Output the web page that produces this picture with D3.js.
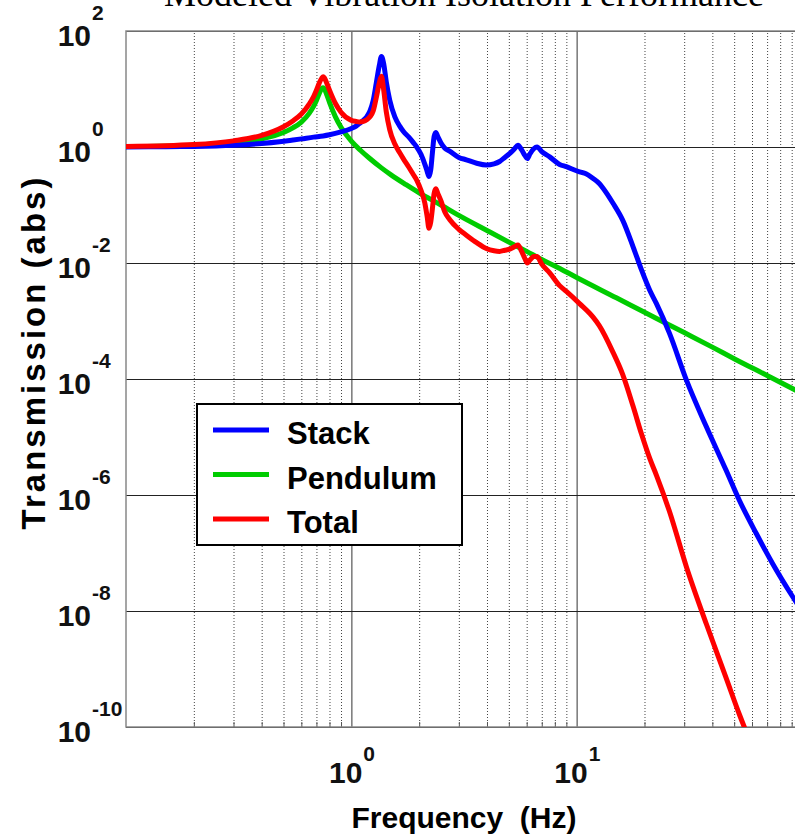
<!DOCTYPE html>
<html>
<head>
<meta charset="utf-8">
<script src="https://cdn.jsdelivr.net/npm/d3@7/dist/d3.min.js"></script>
<style>
  body { margin: 0; background: #fff; }
  svg { display: block; }
</style>
</head>
<body>
<div id="vis"></div>
<script>
// data (frequency in Hz, log10 of transmission)
const stackFreq = [0.1, 0.15, 0.2, 0.3, 0.4, 0.48, 0.55, 0.6, 0.68, 0.75, 0.8, 0.9, 1.0, 1.05, 1.09,
  1.13, 1.17, 1.21, 1.25, 1.29, 1.33, 1.36, 1.39, 1.43, 1.48, 1.56, 1.64, 1.7, 1.8, 1.88,
  1.95, 2.04, 2.12, 2.17, 2.21, 2.25, 2.29, 2.33, 2.37, 2.42, 2.5, 2.6, 2.73, 3.0, 3.24,
  3.6, 3.97, 4.3, 4.55, 4.8, 5.05, 5.3, 5.49, 5.7, 5.9, 6.04, 6.2, 6.45, 6.67, 7.0,
  7.59, 8.4, 9.0, 10.3, 11.0, 11.8, 12.6, 13.1, 14.5, 16.0, 17.8, 19.4, 21.1, 22.6, 25.8,
  30.7, 37.6, 46.0, 52.7, 62.6, 74.0, 90.8, 100];
const stackLog = [0.00, 0.005, 0.01, 0.03, 0.06, 0.09, 0.12, 0.14, 0.17, 0.19, 0.21, 0.26, 0.32, 0.36, 0.41,
  0.46, 0.52, 0.62, 0.80, 1.10, 1.40, 1.56, 1.45, 1.12, 0.81, 0.52, 0.36, 0.27, 0.17, 0.08,
  0.0, -0.13, -0.30, -0.42, -0.51, -0.40, -0.10, 0.18, 0.25, 0.18, 0.07, -0.02, -0.07, -0.18, -0.22,
  -0.28, -0.31, -0.29, -0.25, -0.18, -0.11, -0.03, 0.03, -0.05, -0.15, -0.20, -0.12, -0.03, 0.0, -0.08,
  -0.17, -0.30, -0.34, -0.43, -0.46, -0.54, -0.63, -0.71, -0.97, -1.26, -1.72, -2.12, -2.47, -2.70, -3.21,
  -4.02, -4.82, -5.57, -6.09, -6.66, -7.18, -7.75, -8.0];

const pendFreq = [0.1, 0.2, 0.3, 0.4, 0.5, 0.55, 0.6, 0.65, 0.68, 0.7, 0.72, 0.74, 0.75, 0.76, 0.78,
  0.8, 0.85, 0.9, 1.0, 1.1, 1.2, 1.36, 1.5, 1.75, 2.0, 2.5, 3.0, 4.0, 5.0, 6.0,
  7.0, 8.0, 10, 15, 20, 30, 40, 50, 70, 100];
const pendLog = [0.008, 0.032, 0.076, 0.14, 0.25, 0.33, 0.43, 0.58, 0.70, 0.80, 0.92, 1.01, 1.02, 1.0, 0.89,
  0.77, 0.52, 0.34, 0.10, -0.06, -0.19, -0.36, -0.48, -0.65, -0.79, -1.0, -1.18, -1.44, -1.64, -1.80,
  -1.94, -2.05, -2.25, -2.60, -2.85, -3.20, -3.45, -3.65, -3.94, -4.25];

const totalFreq = [0.1, 0.2, 0.3, 0.4, 0.5, 0.55, 0.6, 0.65, 0.68, 0.7, 0.72, 0.74, 0.75, 0.76, 0.78,
  0.8, 0.85, 0.9, 1.0, 1.05, 1.09, 1.13, 1.17, 1.21, 1.25, 1.29, 1.33, 1.36, 1.39, 1.43,
  1.48, 1.56, 1.64, 1.7, 1.8, 1.88, 1.95, 2.04, 2.12, 2.17, 2.21, 2.25, 2.29, 2.33, 2.37,
  2.42, 2.5, 2.6, 2.73, 3.0, 3.24, 3.6, 3.97, 4.3, 4.55, 4.8, 5.05, 5.3, 5.49, 5.7,
  5.9, 6.04, 6.2, 6.45, 6.67, 7.0, 7.59, 8.4, 9.0, 10.3, 11.8, 12.6, 14.5, 16.0, 17.8,
  19.4, 21.1, 22.6, 25.8, 30.7, 37.6, 46.0, 52.7, 62.6];
const totalLog = [0.008, 0.042, 0.106, 0.20, 0.35, 0.45, 0.57, 0.74, 0.87, 0.98, 1.10, 1.19, 1.21, 1.19, 1.09,
  0.98, 0.75, 0.60, 0.46, 0.44, 0.43, 0.44, 0.47, 0.52, 0.62, 0.85, 1.10, 1.22, 1.0, 0.6,
  0.3, 0.05, -0.1, -0.2, -0.35, -0.47, -0.57, -0.75, -0.97, -1.2, -1.40, -1.30, -1.06, -0.80, -0.72,
  -0.80, -0.93, -1.12, -1.25, -1.42, -1.52, -1.65, -1.75, -1.79, -1.80, -1.78, -1.76, -1.72, -1.69, -1.80,
  -1.93, -2.0, -1.95, -1.89, -1.89, -2.02, -2.17, -2.39, -2.49, -2.70, -2.93, -3.08, -3.54, -3.92, -4.47,
  -4.95, -5.37, -5.66, -6.28, -7.24, -8.22, -9.15, -9.78, -10.5];

const seriesNames = ["Stack", "Pendulum", "Total"];
const seriesColors = ["#0000ff", "#00cc00", "#ff0000"];

const xMajor = [1, 10];
const xMinor = [0.2, 0.3, 0.4, 0.5, 0.6, 0.7, 0.8, 0.9, 2, 3, 4, 5, 6, 7, 8, 9,
  20, 30, 40, 50, 60, 70, 80, 90];
const yMajor = [1e2, 1e0, 1e-2, 1e-4, 1e-6, 1e-8, 1e-10];

const WIDTH = 795, HEIGHT = 835;
const PLOT = {left: 126, right: 802, top: 31, bottom: 727};

const svg = d3.select("#vis").append("svg")
  .attr("width", WIDTH)
  .attr("height", HEIGHT)
  .style("font-family", "'Liberation Sans', Arial, sans-serif");

const X_SCALE = d3.scaleLog().domain([0.1, 100]).range([PLOT.left, PLOT.right]);
const Y_SCALE = d3.scaleLog().domain([1e-10, 1e2]).range([PLOT.bottom, PLOT.top]);
const plotH = PLOT.bottom - PLOT.top;
const plotW = PLOT.right - PLOT.left;

svg.append("defs").append("clipPath").attr("id", "plotclip")
  .append("rect")
  .attr("x", PLOT.left).attr("y", PLOT.top)
  .attr("width", plotW).attr("height", plotH);

// minor vertical grid (dotted)
svg.append("g")
  .attr("transform", "translate(0," + PLOT.bottom + ")")
  .call(d3.axisBottom(X_SCALE).tickValues(xMinor).tickSize(-plotH).tickFormat(""))
  .call(g => g.select(".domain").remove())
  .call(g => g.selectAll("line").attr("stroke", "#444").attr("stroke-dasharray", "1,2"));

// short minor ticks on the bottom axis
svg.append("g")
  .attr("transform", "translate(0," + PLOT.bottom + ")")
  .call(d3.axisBottom(X_SCALE).tickValues(xMinor).tickSize(-5).tickFormat(""))
  .call(g => g.select(".domain").remove())
  .call(g => g.selectAll("line").attr("stroke", "#555"));

// major vertical grid
svg.append("g")
  .attr("transform", "translate(0," + PLOT.bottom + ")")
  .call(d3.axisBottom(X_SCALE).tickValues(xMajor).tickSize(-plotH).tickFormat(""))
  .call(g => g.select(".domain").remove())
  .call(g => g.selectAll("line").attr("stroke", "#777").attr("stroke-width", 1.5));

// horizontal grid at labelled decades
svg.append("g")
  .attr("transform", "translate(" + PLOT.left + ",0)")
  .call(d3.axisLeft(Y_SCALE).tickValues(yMajor).tickSize(-plotW).tickFormat(""))
  .call(g => g.select(".domain").remove())
  .call(g => g.selectAll("line").attr("stroke", "#222").attr("stroke-width", 1));

// frame
svg.append("rect")
  .attr("x", PLOT.left).attr("y", PLOT.top)
  .attr("width", plotW).attr("height", plotH)
  .attr("fill", "none")
  .attr("stroke", "#888")
  .attr("stroke-width", 1.5);

// curves
const line = d3.line()
  .x(d => X_SCALE(d[0]))
  .y(d => Y_SCALE(Math.pow(10, d[1])))
  .curve(d3.curveMonotoneX);

const seriesData = [
  d3.zip(stackFreq, stackLog),
  d3.zip(pendFreq, pendLog),
  d3.zip(totalFreq, totalLog)
];

const curves = svg.append("g").attr("clip-path", "url(#plotclip)");
// draw pendulum first, then stack, then total on top
[1, 0, 2].forEach(i => {
  curves.append("path")
    .datum(seriesData[i])
    .attr("d", line)
    .attr("fill", "none")
    .attr("stroke", seriesColors[i])
    .attr("stroke-width", 5)
    .attr("stroke-linejoin", "round");
});

// y tick labels: 10 with superscript exponent
const tickLab = svg.append("g").attr("font-weight", "bold").attr("fill", "#111");
yMajor.forEach(v => {
  const y = Y_SCALE(v);
  tickLab.append("text")
    .attr("x", 91).attr("y", y + 15)
    .attr("text-anchor", "end")
    .attr("font-size", 30)
    .text("10");
  tickLab.append("text")
    .attr("x", 92).attr("y", y - 11)
    .attr("font-size", 21)
    .text(String(Math.round(Math.log10(v))));
});

// x tick labels
xMajor.forEach(v => {
  const x = X_SCALE(v);
  tickLab.append("text")
    .attr("x", x + 11).attr("y", 783)
    .attr("text-anchor", "end")
    .attr("font-size", 30)
    .text("10");
  tickLab.append("text")
    .attr("x", x + 12).attr("y", 761)
    .attr("font-size", 21)
    .text(String(Math.round(Math.log10(v))));
});

// axis titles
svg.append("text")
  .attr("x", (PLOT.left + PLOT.right) / 2).attr("y", 828)
  .attr("text-anchor", "middle")
  .attr("font-size", 30).attr("font-weight", "bold")
  .style("white-space", "pre")
  .text("Frequency  (Hz)");

svg.append("text")
  .attr("transform", "translate(45,352) rotate(-90)")
  .attr("text-anchor", "middle")
  .attr("font-size", 33).attr("font-weight", "bold")
  .attr("letter-spacing", 3)
  .text("Transmission (abs)");

svg.append("text")
  .attr("x", (PLOT.left + PLOT.right) / 2).attr("y", 6)
  .attr("text-anchor", "middle")
  .attr("font-family", "'Liberation Serif', 'Times New Roman', serif")
  .attr("font-size", 36)
  .text("Modeled Vibration Isolation Performance");

// legend
const legend = svg.append("g");
legend.append("rect")
  .attr("x", 197).attr("y", 404)
  .attr("width", 265).attr("height", 141)
  .attr("fill", "#fff")
  .attr("stroke", "#000")
  .attr("stroke-width", 2);
seriesNames.forEach((name, i) => {
  const ly = 430 + i * 44.5;
  legend.append("line")
    .attr("x1", 213).attr("x2", 269)
    .attr("y1", ly).attr("y2", ly)
    .attr("stroke", seriesColors[i])
    .attr("stroke-width", 5);
  legend.append("text")
    .attr("x", 287).attr("y", ly + 14)
    .attr("font-size", 31).attr("font-weight", "bold")
    .attr("fill", "#000")
    .text(name);
});
</script>
</body>
</html>
